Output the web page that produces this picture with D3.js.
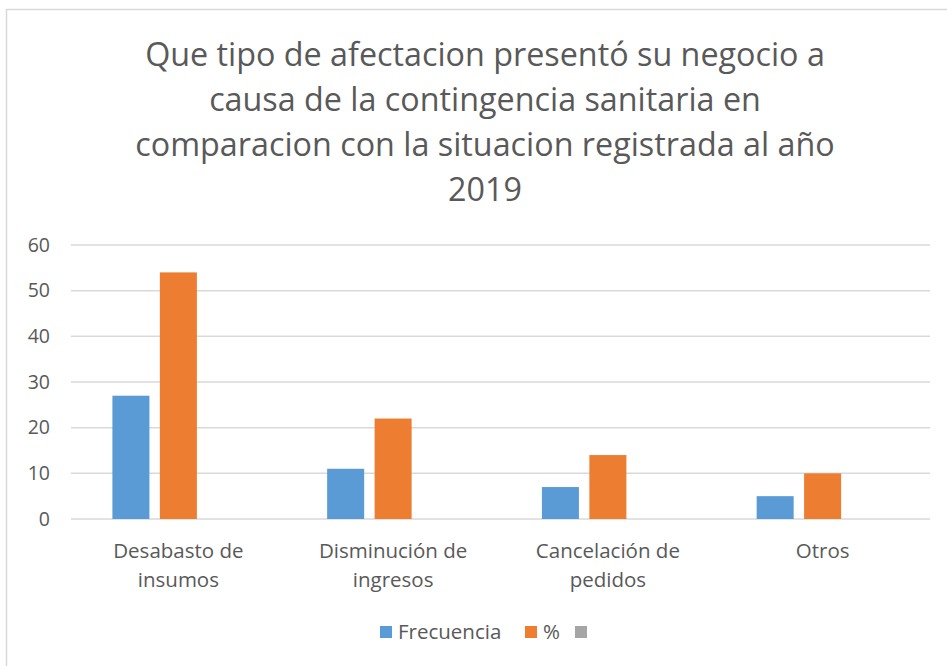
<!DOCTYPE html>
<meta charset="utf-8">
<script src="https://cdn.jsdelivr.net/npm/d3@7"></script>
<style>
body { margin: 0; background: #fff; }
text { fill: #595959; font-family: "Open Sans", sans-serif; }
.grid line { stroke: #d9d9d9; stroke-width: 1.5px; }
</style>
<body>
<script>

var categories = [["Desabasto de", "insumos"], ["Disminución de", "ingresos"], ["Cancelación de", "pedidos"], ["Otros"]];
var seriesNames = ["Frecuencia", "%", ""];
var frecuencia = [27, 11, 7, 5];
var porcentaje = [54, 22, 14, 10];
var yTicks = [0, 10, 20, 30, 40, 50, 60];
var titleLines = ["Que tipo de afectacion presentó su negocio a",
                  "causa de la contingencia sanitaria en",
                  "comparacion con la situacion registrada al año",
                  "2019"];
var colors = ["#5b9bd5", "#ed7d31", "#a5a5a5"];

var width = 947, height = 666;

var svg = d3.select("body").append("svg")
    .attr("width", width)
    .attr("height", height);

// chart frame (only top/left edges visible in the crop)
svg.append("rect")
    .attr("x", 6.5).attr("y", 9.5)
    .attr("width", 960).attr("height", 700)
    .attr("fill", "none")
    .attr("stroke", "#d9d9d9")
    .attr("stroke-width", 1.5);

// title
svg.append("g").selectAll("text")
    .data(titleLines)
    .enter().append("text")
    .attr("x", 485)
    .attr("y", function(d, i) { return 66 + i * 45; })
    .attr("text-anchor", "middle")
    .style("font-size", "32.3px")
    .text(function(d) { return d; });

var x0 = d3.scaleBand()
    .domain(d3.range(categories.length))
    .range([71, 930]);

var x1 = d3.scaleBand()
    .domain(d3.range(seriesNames.length))
    .range([41.4, x0.bandwidth() - 41.4])
    .paddingInner(0.22);

var y = d3.scaleLinear()
    .domain([0, 60])
    .range([519, 245]);

// gridlines
svg.append("g").attr("class", "grid")
    .selectAll("line")
    .data(yTicks)
    .enter().append("line")
    .attr("x1", 71).attr("x2", 930)
    .attr("y1", function(d) { return y(d); })
    .attr("y2", function(d) { return y(d); });

// y axis labels
var yAxis = d3.axisLeft(y).tickValues(yTicks).tickSize(0).tickPadding(0);
svg.append("g")
    .attr("transform", "translate(50,0)")
    .call(yAxis)
    .call(function(g) { g.select(".domain").remove(); })
    .selectAll("text")
    .style("font-size", "19.5px")
    .style("font-family", "'Open Sans', sans-serif")
    .attr("fill", "#595959");

// bars
var rows = categories.map(function(c, i) { return [frecuencia[i], porcentaje[i], null]; });

var groups = svg.append("g").selectAll("g")
    .data(rows)
    .enter().append("g")
    .attr("transform", function(d, i) { return "translate(" + x0(i) + ",0)"; });

groups.selectAll("rect")
    .data(function(d) { return d.map(function(v, j) { return {v: v, j: j}; }).filter(function(e) { return e.v != null; }); })
    .enter().append("rect")
    .attr("x", function(d) { return x1(d.j); })
    .attr("width", x1.bandwidth())
    .attr("y", function(d) { return y(d.v); })
    .attr("height", function(d) { return y(0) - y(d.v); })
    .attr("fill", function(d) { return colors[d.j]; });

// category labels
var catLabels = svg.append("g").selectAll("text")
    .data(categories)
    .enter().append("text")
    .attr("text-anchor", "middle")
    .style("font-size", "20.5px")
    .attr("transform", function(d, i) { return "translate(" + (x0(i) + x0.bandwidth() / 2) + ",0)"; });

catLabels.selectAll("tspan")
    .data(function(d) { return d; })
    .enter().append("tspan")
    .attr("x", 0)
    .attr("y", function(d, i) { return 558 + i * 29; })
    .text(function(d) { return d; });

// legend
var legendX = [380, 525, 575];
var legend = svg.append("g").selectAll("g")
    .data(seriesNames)
    .enter().append("g")
    .attr("transform", function(d, i) { return "translate(" + legendX[i] + ",626)"; });

legend.append("rect")
    .attr("width", 12).attr("height", 12)
    .attr("fill", function(d, i) { return colors[i]; });

legend.append("text")
    .attr("x", 18).attr("y", 13)
    .style("font-size", "20.5px")
    .text(function(d) { return d; });

</script>
</body>
